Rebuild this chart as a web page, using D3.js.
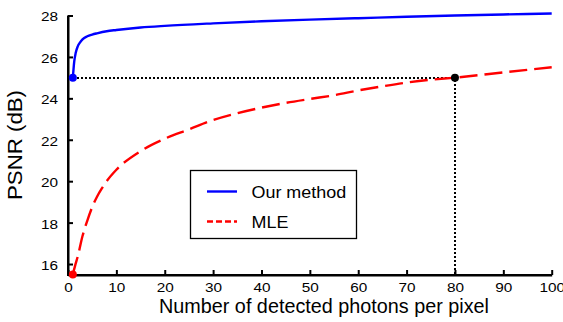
<!DOCTYPE html>
<html><head><meta charset="utf-8">
<script src="https://cdn.jsdelivr.net/npm/d3@7"></script>
<style>body{margin:0;background:#fff}svg{display:block}text{font-family:"Liberation Sans",Arial,sans-serif}</style>
</head><body>
<svg id="c" width="563" height="322"></svg>
<script>
const xTicks = [0,10,20,30,40,50,60,70,80,90,100];
const yTicks = [16,18,20,22,24,26,28];
const seriesNames = ["Our method","MLE"];
const oursX = [1,1.3,1.6,2,2.5,3,4,5,6,8,10,15,20,30,40,50,60,70,80,90,100];
const oursY = [25,25.8,26.2,26.5,26.7,26.85,27.0,27.08,27.14,27.24,27.3,27.42,27.5,27.62,27.72,27.8,27.87,27.94,28.0,28.05,28.1];
const mleX = [1,1.5,2,3,4,5,6,7,8,10,15,20,25,30,35,40,45,50,55,60,65,70,75,80,90,100];
const mleY = [15.5,15.95,16.35,17.35,18.1,18.75,19.25,19.65,20.0,20.55,21.45,22.05,22.5,22.95,23.28,23.55,23.78,23.97,24.15,24.38,24.58,24.76,24.9,25.0,25.25,25.5];
const marker = {x:80, y:25};

const svg = d3.select("#c");
const x = d3.scaleLinear().domain([0,100]).range([68,551.7]);
const y = d3.scaleLinear().domain([15.47,28]).range([275,15.5]);

function stretch(sel,k){ sel.each(function(){ const w=this.getComputedTextLength(); d3.select(this).attr("textLength",w*k).attr("lengthAdjust","spacingAndGlyphs"); }); }

// axes
const xa = svg.append("g").attr("transform",`translate(0,${y.range()[0]})`)
  .call(d3.axisBottom(x).tickValues(xTicks).tickSizeInner(-5).tickSizeOuter(0).tickPadding(8));
const ya = svg.append("g").attr("transform",`translate(${x.range()[0]},0)`)
  .call(d3.axisLeft(y).tickValues(yTicks).tickSizeInner(-5).tickSizeOuter(0).tickPadding(10));
[xa,ya].forEach(g=>{
  g.attr("font-family",null).attr("font-size",null);
  g.select(".domain").attr("stroke","#000").attr("stroke-width",2);
  g.selectAll(".tick line").attr("stroke","#000").attr("stroke-width",2);
  g.selectAll(".tick text").attr("font-size",13).attr("fill","#000");
  stretch(g.selectAll(".tick text"),1.18);
});
ya.selectAll(".tick text").attr("dy","0.42em");
svg.append("line").attr("x1",x.range()[0]).attr("x2",x.range()[0]).attr("y1",y.range()[1]).attr("y2",y.range()[0]+1).attr("stroke","#000").attr("stroke-width",2);
svg.append("line").attr("x1",x.range()[0]-1).attr("x2",x.range()[1]).attr("y1",y.range()[0]).attr("y2",y.range()[0]).attr("stroke","#000").attr("stroke-width",2);

// reference dotted lines
svg.append("path")
  .attr("d",`M${x(oursX[0])},${y(marker.y)}H${x(marker.x)}V${y.range()[0]}`)
  .attr("fill","none").attr("stroke","#000").attr("stroke-width",2).attr("stroke-dasharray","2,2")
  .attr("shape-rendering","crispEdges");

const line = d3.line().curve(d3.curveMonotoneX);
svg.append("path").attr("d",line(mleX.map((v,i)=>[x(v),y(mleY[i])])))
  .attr("fill","none").attr("stroke","#ff0000").attr("stroke-width",2.4).attr("stroke-dasharray","18,7");
svg.append("path").attr("d",line(oursX.map((v,i)=>[x(v),y(oursY[i])])))
  .attr("fill","none").attr("stroke","#0000ff").attr("stroke-width",2.4);

svg.append("circle").attr("cx",x(oursX[0])).attr("cy",y(oursY[0])).attr("r",4).attr("fill","#0000ff");
svg.append("circle").attr("cx",x(mleX[0])).attr("cy",y(mleY[0])).attr("r",4).attr("fill","#ff0000");
svg.append("circle").attr("cx",x(marker.x)).attr("cy",y(marker.y)).attr("r",4).attr("fill","#000");

// labels
svg.append("text").attr("x",324).attr("y",313).attr("text-anchor","middle")
  .attr("font-size",20).attr("textLength",330).attr("lengthAdjust","spacingAndGlyphs")
  .text("Number of detected photons per pixel");
svg.append("text").attr("transform","translate(22,145) rotate(-90)").attr("text-anchor","middle")
  .attr("font-size",20).attr("textLength",110).attr("lengthAdjust","spacingAndGlyphs")
  .text("PSNR (dB)");

// legend
const lg = svg.append("g");
lg.append("rect").attr("x",190.5).attr("y",170.5).attr("width",166).attr("height",68)
  .attr("fill","#fff").attr("stroke","#000").attr("stroke-width",1.3);
const colors = ["#0000ff","#ff0000"], dashes = [null,"6,3"], ly = [191.5,221.5];
seriesNames.forEach((n,i)=>{
  lg.append("line").attr("x1",207).attr("x2",237).attr("y1",ly[i]).attr("y2",ly[i])
    .attr("stroke",colors[i]).attr("stroke-width",2.4).attr("stroke-dasharray",dashes[i]);
  const t = lg.append("text").attr("x",251.5).attr("y",ly[i]+6).attr("font-size",16).text(n);
  stretch(t,1.12);
});
</script>
</body></html>
